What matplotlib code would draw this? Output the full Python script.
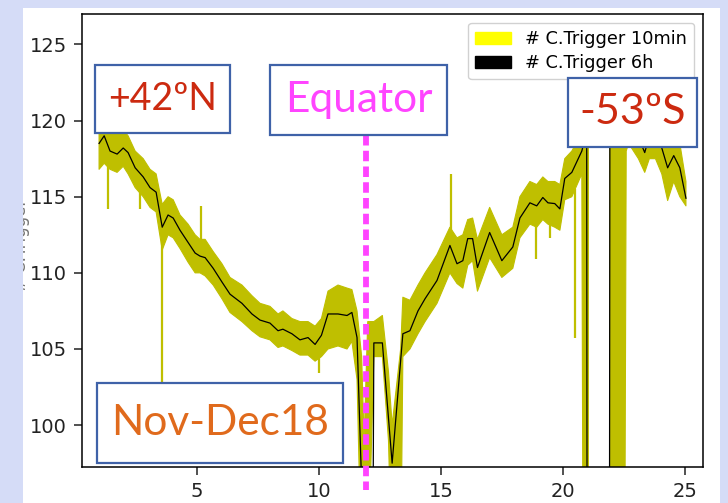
import numpy as np
import matplotlib
matplotlib.use("Agg")
import matplotlib.pyplot as plt
from matplotlib.patches import Rectangle, Patch
from matplotlib.lines import Line2D

# ---------------- data ----------------
# 6h average of the C.Trigger rate
t6h = [0.98, 1.19, 1.43, 1.72, 1.97, 2.17, 2.46, 2.79, 3.07, 3.32, 3.57, 3.81,
       4.02, 4.30, 4.63, 4.92, 5.12, 5.33, 5.66, 6.02, 6.35, 6.84, 7.25, 7.58,
       7.99, 8.32, 8.52, 8.89, 9.22, 9.55, 9.84, 10.10, 10.37, 10.78, 11.15,
       11.35, 11.56, 11.81, 12.06, 12.25, 12.60, 13.00, 13.44, 13.73, 14.06,
       14.35, 14.84, 15.37, 15.66, 15.90, 16.10, 16.30, 16.50, 17.00, 17.50,
       17.95, 18.24, 18.65, 18.93, 19.18, 19.39, 19.67, 19.88, 20.08, 20.37,
       20.78, 20.98, 21.03, 21.88, 21.93, 22.30, 22.70, 23.10, 23.36, 23.55,
       23.80, 24.06, 24.30, 24.55, 24.80, 25.05]
trig6h = [118.5, 119.0, 118.0, 117.8, 118.2, 117.9, 116.9, 116.3, 115.6, 115.3,
          113.0, 113.8, 113.6, 112.8, 112.0, 111.3, 111.1, 111.0, 110.3, 109.4,
          108.6, 108.0, 107.3, 106.9, 106.7, 106.2, 106.3, 106.0, 105.6, 105.75,
          105.3, 105.9, 107.3, 107.3, 107.2, 107.4, 105.75, 93.0, 40.0, 105.4,
          105.4, 97.5, 106.0, 106.2, 107.5, 108.3, 109.5, 111.8, 110.6, 110.8,
          112.25, 112.25, 110.35, 112.65, 110.8, 111.7, 113.6, 114.6, 114.4,
          114.95, 114.6, 114.55, 114.2, 116.2, 116.6, 118.0, 119.3, 30.0, 30.0,
          119.5, 120.0, 120.2, 118.9, 117.9, 119.0, 119.3, 118.2, 116.9, 117.7,
          116.9, 114.9]

# 10 min rate: upper and lower edge of the band
t10 = [0.98, 1.19, 1.43, 1.72, 1.97, 2.17, 2.46, 2.79, 3.07, 3.32, 3.57, 3.81,
       4.02, 4.30, 4.63, 4.92, 5.12, 5.33, 5.66, 6.02, 6.35, 6.84, 7.25, 7.58,
       7.99, 8.32, 8.52, 8.89, 9.22, 9.55, 9.84, 10.10, 10.37, 10.78, 11.15,
       11.35, 11.56, 11.75, 11.85, 12.00, 12.25, 12.60, 12.85, 13.00, 13.35,
       13.44, 13.73, 14.06, 14.35, 14.84, 15.37, 15.66, 15.90, 16.10, 16.30,
       16.50, 17.00, 17.50, 17.95, 18.24, 18.65, 18.93, 19.18, 19.39, 19.67,
       19.88, 20.08, 20.37, 20.78, 20.83, 21.05, 21.06, 21.92, 21.93, 22.54,
       22.60, 22.70, 23.10, 23.36, 23.55, 23.80, 24.06, 24.30, 24.55, 24.80,
       25.05]
trig10_hi = [119.3, 119.4, 119.3, 119.2, 119.4, 119.0, 118.0, 117.5, 116.8,
             116.5, 114.5, 115.0, 114.8, 113.8, 113.2, 112.5, 112.2, 112.2,
             111.4, 110.6, 109.7, 109.2, 108.5, 108.0, 107.8, 107.3, 107.5,
             107.0, 106.8, 106.8, 106.5, 107.0, 108.8, 109.2, 109.0, 108.9,
             107.5, 104.5, 99.0, 106.8, 106.8, 107.2, 103.5, 100.0, 105.0,
             108.4, 108.2, 109.2, 110.0, 111.2, 113.0, 112.3, 112.5, 113.5,
             113.6, 112.2, 114.3, 112.5, 113.0, 115.0, 116.0, 115.8, 116.3,
             116.0, 116.0, 115.8, 117.5, 118.0, 119.2, 119.5, 119.5, np.nan,
             np.nan, 121.0, 121.0, 121.0, 121.0, 121.0, 119.5, 120.5, 120.8,
             119.8, 118.5, 119.0, 118.5, 116.0]
trig10_lo = [116.8, 117.2, 116.8, 116.6, 117.0, 116.5, 115.6, 115.0, 114.3,
             114.0, 111.5, 112.5, 112.3, 111.6, 110.7, 110.0, 110.0, 109.8,
             109.2, 108.3, 107.4, 106.8, 106.2, 105.8, 105.6, 105.1, 105.2,
             104.9, 104.6, 104.6, 104.2, 104.5, 105.0, 105.2, 105.0, 105.5,
             103.0, 90.0, 90.0, 90.0, 104.5, 104.5, 99.0, 90.0, 90.0,
             104.5, 105.0, 106.0, 106.8, 108.0, 110.0, 109.3, 109.0, 110.5,
             110.8, 108.8, 111.0, 109.7, 110.3, 112.3, 113.2, 113.0, 113.5,
             113.2, 113.0, 112.8, 114.8, 115.0, 116.5, 90.0, 90.0, np.nan,
             np.nan, 90.0, 90.0, 118.0, 118.5, 117.5, 116.6, 117.5, 117.5,
             116.5, 114.75, 116.0, 115.0, 114.4]

# isolated 10 min spikes: position, start and end value
spike_t = [1.35, 2.66, 3.57, 5.15, 10.00, 15.40, 18.90, 19.47, 20.50]
spike_from = [117.0, 115.8, 112.0, 111.5, 104.5, 111.5, 113.5, 113.5, 115.5]
spike_to = [114.2, 114.2, 100.5, 114.4, 103.4, 116.5, 110.9, 112.3, 105.75]

x_ticks = [5, 10, 15, 20, 25]
y_ticks = [100, 105, 110, 115, 120, 125]
legend_labels = ["# C.Trigger 10min", "# C.Trigger 6h"]

# ---------------- figure ----------------
W, H = 728, 503
BG = "#d5dcf7"
fig = plt.figure(figsize=(W / 100, H / 100), dpi=100, facecolor=BG)


def fx(px):
    return px / W


def fy(py):
    return 1 - py / H


panel = Rectangle((fx(23), 0), fx(720) - fx(23), fy(8), transform=fig.transFigure,
                  facecolor="white", edgecolor="none", zorder=-2)
fig.patches.append(panel)

ax = fig.add_axes([fx(82), fy(467), fx(703) - fx(82), fy(14) - fy(467)])
ax.set_xlim(0.28, 25.75)
ax.set_ylim(97.25, 127.0)

Y = "#bfbf00"
ax.fill_between(t10, trig10_lo, trig10_hi, color=Y, linewidth=0.8, zorder=2)
ax.vlines(spike_t, spike_from, spike_to, color=Y, linewidth=1.6, zorder=2)
ax.plot(t6h, trig6h, color="black", linewidth=0.9, zorder=3)

ax.set_xticks(x_ticks)
ax.set_yticks(y_ticks)
ax.tick_params(labelsize=14, length=6, width=1.1, pad=5, colors="#222222")
for s in ax.spines.values():
    s.set_linewidth(1.1)

handles = [Patch(facecolor="yellow", edgecolor="yellow"),
           Patch(facecolor="black", edgecolor="black")]
ax.legend(handles, legend_labels, loc="upper right", fontsize=12.8,
          labelspacing=0.35, framealpha=0.9, edgecolor="#cccccc")

# partially hidden y label
fig.text(fx(21.5), fy(245), "# C.Trigger", rotation=90, fontsize=12, color="#777777",
         ha="center", va="center", zorder=1)
fig.patches.append(Rectangle((0, 0), fx(23), 1, transform=fig.transFigure,
                             facecolor=BG, edgecolor="none", zorder=2))

# slide overlays
box_col = "#3f62a8"
boxes = [((95, 65, 230, 133), "+42ºN", "#cc2a10", 27),
         ((270, 65, 447, 135), "Equator", "#ff44ff", 30.5),
         ((568, 78, 697, 147), "-53ºS", "#cc2a10", 31),
         ((97, 383, 343, 463), "Nov-Dec18", "#e06a1c", 30.5)]

fig.lines.append(Line2D([fx(366), fx(366)], [fy(135), fy(490)], transform=fig.transFigure,
                        color="#ff44ff", linewidth=4.2, dashes=(1.8, 0.9), zorder=4))

for (x0, y0, x1, y1), txt, col, fs in boxes:
    fig.patches.append(Rectangle((fx(x0), fy(y1)), fx(x1) - fx(x0), fy(y0) - fy(y1),
                                 transform=fig.transFigure, facecolor="white",
                                 edgecolor=box_col, linewidth=1.6, zorder=5))
    fig.text(fx((x0 + x1) / 2), fy((y0 + y1) / 2), txt, fontsize=fs, color=col,
             family="Lato", ha="center", va="center", zorder=6)

fig.savefig("out.png", dpi=100, facecolor=fig.get_facecolor())
